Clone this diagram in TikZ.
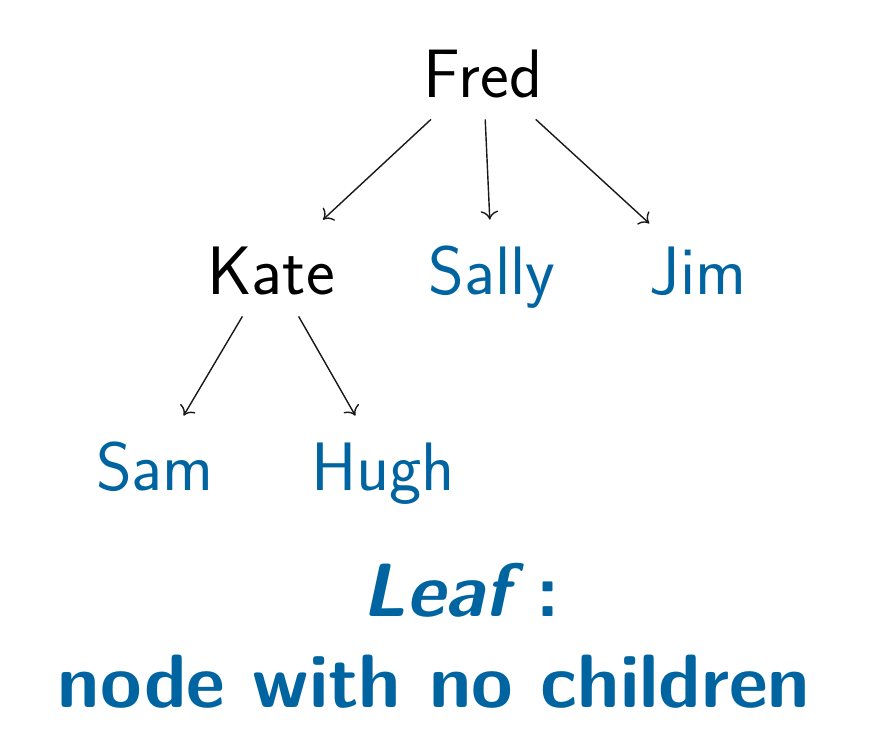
\documentclass[tikz,border=0pt]{standalone}
\usepackage{fontspec}
\usetikzlibrary{arrows.meta}
\definecolor{leafblue}{RGB}{0,100,160}
\begin{document}
\begin{tikzpicture}[x=0.02cm,y=-0.02cm,
  tnode/.style={anchor=base,inner sep=0pt,text height=1.48cm,text depth=0.44cm,
    font=\sffamily\fontsize{39}{42}\selectfont},
  leafnode/.style={tnode,text=leafblue},
  arr/.style={-{To[length=5pt,width=10pt]},line width=0.8pt,black!90}]
\useasboundingbox (0,0) rectangle (886,752);
\node[tnode] (fred) at (483,97) {Fred};
\node[tnode] (kate) at (271,294) {Kate};
\node[leafnode] (sally) at (492,294) {Sally};
\node[leafnode] (jim) at (698,294) {Jim};
\node[leafnode] (sam) at (155,490) {Sam};
\node[leafnode] (hugh) at (383,490) {Hugh};
\draw[arr] (fred) -- (kate);
\draw[arr] (fred) -- (sally);
\draw[arr] (fred) -- (jim);
\draw[arr] (kate) -- (sam);
\draw[arr] (kate) -- (hugh);
\node[anchor=base,text=leafblue,font=\sffamily\bfseries\fontsize{43}{46}\selectfont] (leaf) at (461,616) {\textit{Leaf}\,:};
\node[anchor=base,text=leafblue,font=\sffamily\bfseries\fontsize{43}{46}\selectfont] (def) at (434,707) {node with no children};
\end{tikzpicture}
\end{document}
